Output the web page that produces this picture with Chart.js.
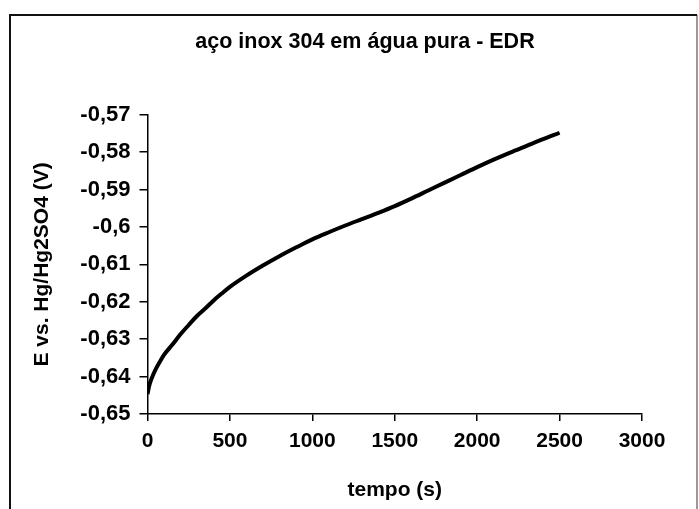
<!DOCTYPE html>
<html>
<head>
<meta charset="utf-8">
<script src="https://cdn.jsdelivr.net/npm/chart.js@4.4.0/dist/chart.umd.min.js"></script>
<style>
html,body{margin:0;padding:0;background:#fff;}
#wrap{position:absolute;left:0;top:0;width:699px;height:509px;}
</style>
</head>
<body>
<div id="wrap"><canvas id="c" width="699" height="509"></canvas></div>
<script>
// time in seconds
const times = [0, 10, 25, 50, 75, 100, 150, 200, 250, 300, 350, 400, 450, 500, 600, 700, 800, 900, 1000, 1100, 1200, 1300, 1400, 1500, 1600, 1700, 1800, 1900, 2000, 2100, 2200, 2300, 2400, 2500];
// potential E vs. Hg/Hg2SO4 (V)
const potential = [-0.6447, -0.6425, -0.6405, -0.6380, -0.6360, -0.6342, -0.6315, -0.6287, -0.6262, -0.6238, -0.6218, -0.6197, -0.6178, -0.6160, -0.6130, -0.6103, -0.6078, -0.6055, -0.6033, -0.6014, -0.5996, -0.5979, -0.5962, -0.5944, -0.5924, -0.5903, -0.5882, -0.5861, -0.5840, -0.5820, -0.5801, -0.5783, -0.5765, -0.5748];
const chartTitle = 'aço inox 304 em água pura - EDR';
const xTitle = 'tempo (s)';
const yTitle = 'E vs. Hg/Hg2SO4 (V)';

const points = times.map((t, i) => ({x: t, y: potential[i]}));

const frame = {
  id: 'frame',
  afterLayout(chart) {
    // shift the title block so that it is centred like in the reference
    if (chart.titleBlock) { chart.titleBlock.left += 88; }
  },
  beforeDraw(chart) {
    const ctx = chart.ctx;
    ctx.save();
    ctx.fillStyle = '#fff';
    ctx.fillRect(0, 0, chart.width, chart.height);
    ctx.restore();
  },
  afterDraw(chart) {
    const ctx = chart.ctx;
    ctx.save();
    ctx.lineWidth = 2;
    ctx.strokeStyle = '#999';
    ctx.beginPath();
    ctx.moveTo(697, 15); ctx.lineTo(697, 509);
    ctx.stroke();
    ctx.strokeStyle = '#111';
    ctx.beginPath();
    ctx.moveTo(10, 509); ctx.lineTo(10, 15); ctx.lineTo(697, 15);
    ctx.stroke();
    ctx.restore();
  }
};

const FONT = "'Liberation Sans', Arial, sans-serif";

new Chart(document.getElementById('c'), {
  type: 'line',
  data: {
    datasets: [{
      data: points,
      borderColor: '#000',
      borderWidth: 4,
      pointRadius: 0,
      cubicInterpolationMode: 'monotone',
      fill: false
    }]
  },
  options: {
    responsive: false,
    animation: false,
    devicePixelRatio: 1,
    layout: {padding: {left: 0, right: 57, top: 0, bottom: 0}},
    plugins: {
      legend: {display: false},
      tooltip: {enabled: false},
      title: {
        display: true,
        text: chartTitle,
        color: '#000',
        font: {family: FONT, size: 21.5, weight: 'bold', lineHeight: 1.2},
        padding: {top: 29, bottom: 60}
      }
    },
    scales: {
      x: {
        type: 'linear',
        min: 0, max: 3000,
        afterFit(s) { s.height = 95; },
        ticks: {stepSize: 500, color: '#000', padding: 8,
          font: {family: FONT, size: 21, weight: 'bold'},
          callback: v => String(v), maxRotation: 0},
        grid: {drawOnChartArea: false, drawTicks: true, tickLength: 7, color: '#000', lineWidth: 1.5},
        border: {display: true, color: '#000', width: 1.5},
        title: {display: true, text: xTitle, color: '#000',
          font: {family: FONT, size: 21, weight: 'bold', lineHeight: 1.2},
          padding: {top: 0, bottom: 6}}
      },
      y: {
        type: 'linear',
        min: -0.65, max: -0.57,
        afterFit(s) { s.width = 147.5; },
        ticks: {stepSize: 0.01, color: '#000', padding: 9,
          font: {family: FONT, size: 22, weight: 'bold'},
          callback: v => String(Math.round(v * 100) / 100).replace('.', ',')},
        grid: {drawOnChartArea: false, drawTicks: true, tickLength: 8, color: '#000', lineWidth: 1.5},
        border: {display: true, color: '#000', width: 1.5},
        title: {display: true, text: yTitle, color: '#000',
          font: {family: FONT, size: 21, weight: 'bold', lineHeight: 1.2},
          padding: {top: 30, bottom: 0}}
      }
    }
  },
  plugins: [frame]
});
</script>
</body>
</html>
